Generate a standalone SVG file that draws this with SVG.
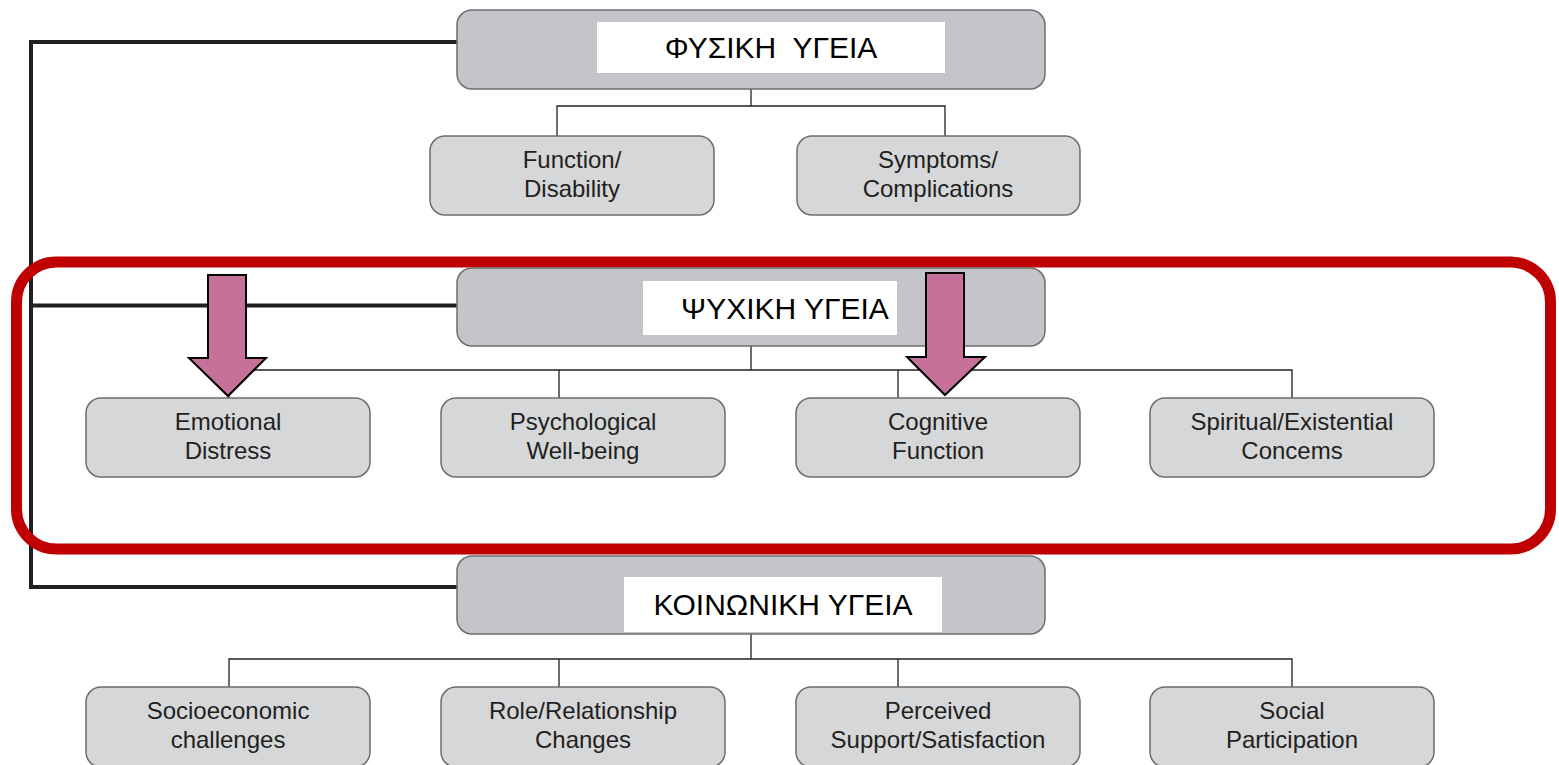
<svg xmlns="http://www.w3.org/2000/svg" width="1559" height="765" viewBox="0 0 1559 765">
<style>
.hdr{fill:#c4c5c8;stroke:#6d6e71;stroke-width:1.5}
.lbl{fill:#ffffff}
.child{fill:#d6d7d9;stroke:#6d6e71;stroke-width:1.5}
.ht{font-family:"Liberation Sans",Arial,sans-serif;font-size:30px;fill:#000;text-anchor:middle;white-space:pre}
.ct{font-family:"Liberation Sans",Arial,sans-serif;font-size:24px;fill:#231f20;text-anchor:middle}
.thin{fill:none;stroke:#231f20;stroke-width:1.3}
.thick{fill:none;stroke:#231f20;stroke-width:4}
.arrow{fill:#c5719a;stroke:#000;stroke-width:2}
</style>
<rect width="1559" height="765" fill="#fff"/>
<g id="connectors">
<path class="thick" d="M457 42 H31 V587 H457 M31 305.5 H457"/>
<path class="thin" d="M751 89 V106 M557 136 V106 H945 V136"/>
<path class="thin" d="M751 346 V370 M229 398 V370 H1292 V398 M559 370 V398 M898 370 V398"/>
<path class="thin" d="M751 634 V659 M229 687 V659 H1292 V687 M559 659 V687 M898 659 V687"/>
</g>
<g id="highlight">
<rect x="16.5" y="262" width="1534" height="287" rx="40" fill="none" stroke="#c00000" stroke-width="11"/>
</g>
<g id="physical">
<rect class="hdr" x="457" y="10" width="588" height="79" rx="15"/>
<rect class="lbl" x="597" y="22" width="348" height="51"/>
<text class="ht" x="771" y="58" xml:space="preserve">ΦΥΣΙΚΗ  ΥΓΕΙΑ</text>
</g>
<g id="function">
<rect class="child" x="430" y="136" width="284" height="79" rx="15"/>
<text class="ct" x="572" y="168">Function/</text>
<text class="ct" x="572" y="197">Disability</text>
</g>
<g id="symptoms">
<rect class="child" x="797" y="136" width="283" height="79" rx="15"/>
<text class="ct" x="938" y="168">Symptoms/</text>
<text class="ct" x="938" y="197">Complications</text>
</g>
<g id="mental">
<rect class="hdr" x="457" y="268" width="588" height="78" rx="15"/>
<rect class="lbl" x="643" y="281" width="254" height="54"/>
<text class="ht" x="785" y="319">ΨΥΧΙΚΗ ΥΓΕΙΑ</text>
</g>
<g id="emotional">
<rect class="child" x="86" y="398" width="284" height="79" rx="15"/>
<text class="ct" x="228" y="430">Emotional</text>
<text class="ct" x="228" y="459">Distress</text>
</g>
<g id="psychological">
<rect class="child" x="441" y="398" width="284" height="79" rx="15"/>
<text class="ct" x="583" y="430">Psychological</text>
<text class="ct" x="583" y="459">Well-being</text>
</g>
<g id="cognitive">
<rect class="child" x="796" y="398" width="284" height="79" rx="15"/>
<text class="ct" x="938" y="430">Cognitive</text>
<text class="ct" x="938" y="459">Function</text>
</g>
<g id="spiritual">
<rect class="child" x="1150" y="398" width="284" height="79" rx="15"/>
<text class="ct" x="1292" y="430">Spiritual/Existential</text>
<text class="ct" x="1292" y="459">Concems</text>
</g>
<g id="social">
<rect class="hdr" x="457" y="556" width="588" height="78" rx="15"/>
<rect class="lbl" x="624" y="577" width="318" height="55"/>
<text class="ht" x="783" y="615">ΚΟΙΝΩΝΙΚΗ ΥΓΕΙΑ</text>
</g>
<g id="socioeconomic">
<rect class="child" x="86" y="687" width="284" height="80" rx="15"/>
<text class="ct" x="228" y="719">Socioeconomic</text>
<text class="ct" x="228" y="748">challenges</text>
</g>
<g id="role">
<rect class="child" x="441" y="687" width="284" height="80" rx="15"/>
<text class="ct" x="583" y="719">Role/Relationship</text>
<text class="ct" x="583" y="748">Changes</text>
</g>
<g id="perceived">
<rect class="child" x="796" y="687" width="284" height="80" rx="15"/>
<text class="ct" x="938" y="719">Perceived</text>
<text class="ct" x="938" y="748">Support/Satisfaction</text>
</g>
<g id="participation">
<rect class="child" x="1150" y="687" width="284" height="80" rx="15"/>
<text class="ct" x="1292" y="719">Social</text>
<text class="ct" x="1292" y="748">Participation</text>
</g>
<g id="arrows">
<path class="arrow" d="M208 275 H246 V358 H266 L228 396 L189 358 H208 Z"/>
<path class="arrow" d="M926 273 H964 V357 H985 L945 395 L907 357 H926 Z"/>
</g>
</svg>
